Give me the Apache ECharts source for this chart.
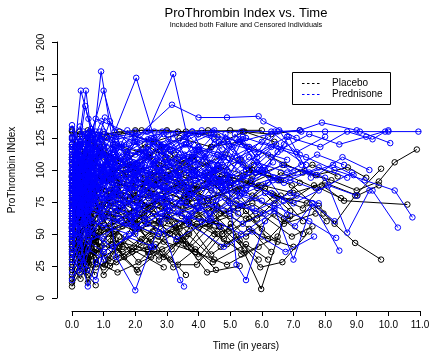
<!DOCTYPE html>
<html><head><meta charset="utf-8">
<script src="https://cdn.jsdelivr.net/npm/echarts@6/dist/echarts.min.js"></script>
<style>html,body{margin:0;padding:0;background:#fff}#c{width:431px;height:352px}</style>
</head><body><div id="c"></div>
<script>
const xTicks = [0,1,2,3,4,5,6,7,8,9,10,11];
const yTicks = [0,25,50,75,100,125,150,175,200];
const groups = ['Placebo','Prednisone'];
// each patient: flat list time,value,time,value,...
const placebo = [
[0,62,.27,55,.52,70,.76,48,1.12,66,2.35,58,3.4,45],
[0,88,.23,92,.49,80,.91,95,1.82,104,2.7,97,3.8,110,4.75,96,5.9,88],
[0,45,.3,38,.55,52,1.15,30],
[0,104,.24,118,.5,96,.77,110,1.1,126,2.2,131,3.35,130,4.3,131,5.4,130,6.3,128,7.2,131],
[0,15,.26,28,.49,22],
[0,76,.27,84,.51,67,.74,90,1.22,72,2.26,85,3.52,78,4.35,60,5.1,70],
[0,95,.22,70,.48,86,1.3,63,2.6,75],
[0,35,.25,48,.5,30,.75,55,1.24,42,2.4,36,3.3,52,4.27,20,5.3,25],
[0,120,.26,108,.5,125,.89,115,1.72,96,2.8,118,3.75,102],
[0,58,.3,74,.53,64,1.2,82,2.3,70,3.33,88,4.28,76,5.32,94,6.35,81,7.3,70,7.9,88,8.6,76,10.6,73],
[0,82,.25,66,.5,75,.76,58],
[0,9,.24,20,.5,35,.72,18],
[0,70,.26,92,.5,84,1.08,104,2.34,90,3.25,112,4.3,94,5.3,108,5.7,100,6.6,92],
[0,100,.25,85,.51,98,1.1,80,2.22,66,3.3,90,4.33,78,5.25,85,6.2,96,6.95,88,7.95,66,8.95,43,9.77,30],
[0,52,.27,40,.5,28,.75,44,1.2,25,2.35,40,3.1,30,3.6,48],
[0,90,.24,100,.5,110,1.23,96,2.3,120,3.34,105,4.4,118,5.3,122,6.3,110,7.3,98,8.2,92,9.0,84,9.7,91,10.2,106,10.9,116],
[0,40,.25,62,.49,55,.75,70,1.32,50,2.28,65,3.35,48],
[0,130,.26,120,.5,128,1.2,110],
[0,66,.28,58,.51,80,1.21,74,2.3,60,3.28,55,4.32,70,5.3,45,5.95,24,6.65,28,7.5,52],
[0,78,.25,96,.5,88,.75,102,1.3,94,2.45,110,3.4,98],
[0,24,.27,15,.5,30,1.3,45,2.4,38,3.35,26,3.95,26,5.02,58,5.98,7,6.7,62],
[0,112,.24,95,.52,104,1.3,120,2.43,112,3.4,125,4.4,118,5.45,130,6.4,122],
[0,56,.25,50,.5,66,.76,45,1.33,60],
[0,86,.27,74,.49,92,1.19,84,2.42,78,3.46,90,4.4,84,5.38,72],
[0,18,.26,32,.5,25,.74,38,1.4,28,2.5,46],
[0,95,.25,108,.5,90],
[0,72,.24,64,.51,78,1.4,68,2.45,82,3.5,70,4.45,75,5.5,62,6.4,80,7.42,74,8.05,60],
[0,48,.27,70,.5,60,1.42,85,2.5,72,3.47,64,4.5,50,5.45,35,6.5,48],
[0,105,.26,115,.5,100,.75,118,1.4,108,2.5,96,3.42,100],
[0,62,.25,45,.48,58,.75,35,1.4,52,2.45,34,3.5,45,4.45,28,5.5,42,6.2,30],
[0,84,.26,95,.5,72,1.42,88],
[0,30,.24,22,.5,40,.76,28,1.44,20,2.5,32],
[0,96,.27,86,.49,102,1.5,92,2.52,85,3.6,96,4.62,88,5.6,100,6.55,92,7.6,104,8.4,95],
[0,68,.25,78,.5,60,.75,72,1.51,80,2.56,66,3.62,58,4.58,72],
[0,118,.24,130,.5,125,1.5,130,2.6,122,3.6,130,4.6,126],
[0,38,.26,28,.52,45,1.6,36,2.65,55,3.6,42],
[0,76,.25,70,.5,85,1.6,96,2.6,88,3.64,75,4.6,80,5.63,90],
[0,55,.27,84,.5,70,.74,62],
[0,90,.25,76,.5,95,1.62,70,2.6,98,3.7,82,4.65,93,5.7,80,6.6,98,7.7,86],
[0,22,.25,38,.5,12,.75,30,1.6,40],
[0,100,.26,90,.5,84,1.7,100,2.7,92,3.7,80,4.7,66,5.7,74,6.7,58,7.7,66],
[0,64,.25,72,.5,50,1.7,62,2.72,48,3.7,60,4.7,40],
[0,82,.24,100,.5,92,.76,84,1.7,98,2.75,104,3.72,92,4.7,102,5.7,95,6.7,104,7.7,96,8.72,102,9.3,94],
[0,46,.26,55,.5,42,1.75,66,2.8,58],
[0,125,.25,112,.5,120,1.8,104,2.8,115,3.8,100,4.85,112,5.82,98],
[0,72,.27,82,.5,92,1.8,76,2.85,70,3.8,84,4.82,66,5.8,78,6.82,62,7.8,72,8.3,58,8.95,80,9.77,101],
[0,12,.25,25,.49,18,.75,10],
[0,92,.26,84,.5,98,1.85,86,2.82,94,3.85,108],
[0,58,.25,64,.5,48,1.85,58,2.9,44,3.9,36,4.9,26,5.9,40],
[0,80,.24,68,.5,82,1.9,90,2.9,78,3.9,88,4.9,96,5.85,86,6.9,76,7.65,88,8.5,78],
[0,110,.25,98,.5,112,1.9,102],
[0,50,.26,36,.5,52,.75,24,1.9,38,2.9,24],
[0,85,.25,90,.5,78,.9,70,1.95,80,2.95,62,3.95,72],
[0,66,.27,52,.5,62,.95,55,1.95,68,2.92,50,3.95,58,4.95,52,5.95,66,6.95,48,7.6,56],
[0,131,.25,128,.5,131,1.0,128,2.0,131,3.0,131,4.0,128,5.0,131,6.0,131],
[0,28,.24,42,.5,34,1.0,24,1.5,48],
[0,75,.25,62,.5,70,1.0,64,2.0,52,3.0,64,4.0,55,5.0,64,6.0,48,7.0,40],
[0,98,.26,110,.5,104,1.0,115,2.0,100],
[0,42,.25,58,.5,65,1.0,52,2.0,62,3.0,76,4.0,62,5.0,55],
[0,88,.25,80,.5,74,1.0,92,2.0,86,3.0,94,4.0,85,5.0,92,6.0,88,7.0,82,8.0,90,9.02,80,9.7,88],
[0,60,.2,42,.45,58,.7,36,1.15,50,1.65,32,2.2,46,2.75,30,3.3,44,4.0,32,4.6,50],
[0,44,.15,66,.4,38,.62,60,.88,40,1.35,56,1.9,36,2.55,52,3.15,38,3.75,56,4.4,34,5.2,48,5.9,30],
[0,80,.18,60,.38,76,.6,52,.85,70,1.3,48,1.85,64,2.45,44,3.05,60,3.65,40,4.2,58,4.9,42,5.6,54,6.3,36],
[0,36,.22,52,.46,30,.7,46,1.05,26,1.55,44,2.1,28,2.65,42,3.2,24,3.9,38,4.55,22],
[0,94,.17,78,.42,96,.66,80,.92,100,1.4,82,1.95,98,2.5,80,3.1,96,3.7,78,4.3,94,4.95,76,5.65,92,6.4,74,7.2,90],
[0,52,.2,74,.44,56,.68,78,.95,60,1.45,80,2.05,58,2.7,76,3.4,54,4.1,72,4.75,50,5.5,68,6.2,46,6.9,64],
[0,108,.16,90,.4,112,.64,94,.9,118,1.3,96,1.75,114,2.3,92,2.95,110,3.55,88,4.25,106,5.0,86,5.75,104],
[0,26,.2,40,.44,20,.7,36,1.0,18,1.5,34,2.1,20],
[0,70,.16,88,.4,64,.65,86,.9,66,1.4,90,1.95,68,2.6,92,3.2,70,3.85,88,4.5,66,5.2,84,5.85,62,6.6,80,7.3,60],
[0,58,.22,46,.46,64,.7,44,1.0,62,1.5,40,2.0,60,2.6,38,3.25,58,3.9,36,4.65,56,5.35,34],
[0,74,.3,60,.7,82,1.6,56,2.3,72,3.1,50,3.9,68,4.8,46,5.6,62,6.5,44],
[0,54,.35,76,.8,48,1.45,68,2.15,44,2.95,64,3.75,40,4.55,60,5.45,38],
[0,92,.28,104,.66,86,1.25,98,2.05,76,2.85,94,3.6,72,4.45,90,5.25,70,6.1,86,6.9,68],
[0,40,.32,30,.72,50,1.3,34,2.1,54,2.9,32,3.65,50,4.5,30],
[0,84,.24,70,.6,90,1.15,64,1.95,84,2.75,60,3.55,80,4.35,56,5.2,76,6.0,54],
[0,118,.3,104,.7,122,1.35,100,2.2,116,3.0,96,3.8,110,4.7,92],
[0,64,.26,84,.62,58,1.2,78,2.0,54,2.8,74,3.7,50,4.6,70,5.5,48,6.4,66,7.3,50],
[0,32,.28,46,.64,26,1.25,42,2.05,22,2.85,38,3.6,18]
];
const prednisone = [
[0,135,.22,120,.48,128,.73,110],
[0,96,.28,162,.52,140,.8,125,1.1,118],
[0,84,.2,120,.44,162,.6,130,.85,115,1.2,106],
[0,70,.3,96,.62,110,.92,177,1.3,120,1.62,105,2.2,98],
[0,80,.18,104,.5,118,1.0,162,1.35,130,2.03,172,2.6,125,3.0,118],
[0,100,.45,115,1.1,125,2.4,130,3.2,175,3.7,120,4.2,110],
[0,90,.25,110,.55,102,1.04,141,1.8,120,3.16,151,4.0,141,4.9,141,5.9,142,6.05,138,7.1,125],
[0,60,.27,86,.51,75,1.15,98,2.35,130,3.3,129,4.45,130,5.35,130,6.4,130,7.25,130,8.0,130,9.1,130,10.0,130,10.95,130,11.1,130],
[0,110,.23,95,.5,120,1.3,108,2.5,125,3.2,115,4.4,128,5.3,122,6.5,130,7.2,131,7.9,137,9.0,131,10.06,121],
[0,48,.26,70,.55,62,.78,85,1.35,74,2.45,80,3.35,66,4.5,72,5.4,58,6.4,70,7.0,30,7.6,74,8.3,60],
[0,20,.24,35,.5,9,.76,28,1.02,42],
[0,75,.26,90,.52,80,1.0,100,1.4,32,2.0,6,2.5,40,3.1,78],
[0,105,.3,98,.55,112,1.3,95,2.2,104,2.8,60,3.42,14,3.54,9],
[0,88,.26,100,.5,92,1.35,110,2.4,96,3.3,104,4.4,92,4.9,100,5.2,26,5.5,14,6.1,60],
[0,55,.25,72,.5,66,1.3,80,2.2,72,3.35,85,4.3,78,5.35,90,6.3,82,6.8,65],
[0,92,.28,80,.53,96,1.28,88,2.35,100,3.4,90,4.25,98,5.5,86,6.4,94,7.35,100,8.0,94,8.7,51,9.4,84],
[0,66,.24,58,.5,74,1.4,66,2.3,84,3.45,75,4.4,90,5.3,80,6.35,92,7.5,98,8.25,104,8.9,96,9.5,84,10.3,55],
[0,78,.27,92,.5,86,1.26,100,2.35,110,3.25,98,4.35,112,5.4,104,6.3,118,7.4,110,8.3,100,9.25,92,10.2,84,10.76,63],
[0,44,.25,30,.52,52,1.3,40,2.4,58,3.3,46,4.4,62,5.35,50,6.4,68,7.05,56,7.6,74,8.45,37],
[0,58,.28,66,.5,50,1.35,70,2.3,62,3.4,74,4.35,66,5.3,80,6.4,72,7.5,60,8.35,47],
[0,100,.25,126,.5,118,.75,130,1.4,124,2.6,130],
[0,115,.26,104,.55,130,1.55,120,2.45,112,3.6,126,4.5,131,5.55,118],
[0,30,.25,45,.47,22,.75,14,1.0,36],
[0,72,.23,84,.5,96,.77,88,1.6,105,2.55,96,3.4,110,4.6,100],
[0,95,.25,110,.5,102,1.5,118,2.6,106,3.55,120,4.6,112,5.5,125,6.6,116,7.5,128,8.45,120,9.3,126,10.0,131],
[0,62,.3,78,.54,70,1.54,60,2.6,76],
[0,50,.26,64,.5,80,1.6,72,2.5,88,3.6,80,4.65,92],
[0,85,.25,72,.52,90,1.65,82,2.7,94,3.65,86,4.5,100,5.7,92,6.65,104,7.75,96,8.55,110,9.4,100],
[0,120,.22,112,.5,128,1.7,118,2.7,126],
[0,38,.27,50,.5,44,1.7,58,2.75,50,3.7,64,4.7,56],
[0,90,.25,98,.48,84,1.7,96,2.75,88,3.65,100,4.75,86,5.8,98,6.7,90,7.8,102,8.7,94],
[0,74,.25,66,.55,82,1.75,74,2.65,90],
[0,105,.24,115,.5,96,1.76,110,2.7,100,3.8,112,4.75,104,5.75,116,6.8,108],
[0,56,.25,42,.5,60,1.8,50,2.8,66,3.7,58,4.8,40,5.7,52,6.75,36,7.65,48],
[0,82,.3,96,.5,104,1.8,92,2.8,108,3.85,96,4.7,110],
[0,14,.25,26,.52,38,1.0,30,1.7,48,2.6,40],
[0,98,.2,88,.5,106,1.85,98,2.9,86,3.8,100,4.8,92,5.85,106,6.8,98,7.75,112,8.6,104],
[0,68,.26,80,.5,72,1.85,86,2.8,78,3.9,92,4.8,84,5.7,70],
[0,125,.25,134,.5,120,.75,140,1.9,128,2.85,118,3.8,130,4.9,124],
[0,46,.28,58,.5,70,1.9,62,2.9,74,3.8,66,4.85,78,5.8,68,6.9,82,7.8,74],
[0,88,.24,76,.5,94,1.9,84,2.8,98,3.9,90,4.8,102],
[0,112,.25,100,.5,116,1.95,106,2.9,120,3.85,110,4.8,122,5.9,114,6.8,126,7.85,118,8.7,130,9.5,124,9.9,130],
[0,64,.22,52,.5,68,1.95,56,2.95,70],
[0,80,.25,88,.55,78,1.95,92,2.9,84,3.9,96,4.85,88,5.9,100,6.9,92,7.8,84,8.85,98],
[0,26,.25,40,.5,54,1.0,46,1.5,62],
[0,94,.26,104,.5,98,1.0,112,2.0,104,3.1,116],
[0,52,.25,66,.5,58,1.05,72,2.0,64,2.9,78,4.0,70,5.05,84,6.0,76],
[0,108,.25,122,.5,114,1.0,130,2.05,122,3.0,130],
[0,76,.3,70,.5,84,1.0,78,2.0,92,3.05,84,4.1,96,5.0,88,5.9,100],
[0,34,.25,20,.52,44,1.0,36,2.0,50],
[0,100,.25,92,.5,108,1.0,100,2.1,114,3.0,106,4.0,118,5.05,110,6.0,122,7.1,114,8.0,126],
[0,60,.24,74,.5,66,1.0,80,1.95,72,3.0,86,4.05,78],
[0,86,.25,100,.5,92,1.1,106,2.0,98],
[0,118,.27,108,.5,122,1.0,112,2.0,126,3.1,116,4.0,128,4.95,120],
[0,42,.25,56,.5,48,1.0,62,2.05,54,3.0,68,4.1,60,5.0,74,6.05,66,7.1,80],
[0,92,.25,84,.5,98,1.0,90,2.0,104,3.05,96,4.0,108],
[0,70,.26,86,.5,78,1.05,94,2.0,86],
[0,132,.25,118,.5,126,1.0,116],
[0,54,.25,48,.5,62,1.0,56,2.1,70,3.0,62,4.05,76,5.0,68,6.1,82,7.0,74,8.1,88,9.0,80],
[0,96,.25,110,.5,104,1.0,120,2.0,112,3.05,124,4.0,116],
[0,78,.15,96,.35,72,.6,104,.9,85,1.3,112,1.7,92],
[0,102,.12,88,.4,118,.65,96,.88,124,1.25,100],
[0,66,.18,94,.38,60,.62,88,.85,70,1.2,95,1.6,78,2.3,104],
[0,118,.15,100,.36,130,.58,108,.82,126,1.1,104],
[0,86,.16,64,.4,98,.63,74,.9,106,1.4,82],
[0,94,.12,122,.32,100,.6,132,.83,112,1.2,138,1.55,118],
[0,58,.2,84,.42,66,.7,92,.95,78],
[0,108,.14,90,.38,112,.6,86,.86,116,1.3,96,1.8,110],
[0,72,.16,100,.4,82,.65,112,.9,94,1.35,120],
[0,124,.18,110,.42,150,.66,124,.93,138,1.3,116],
[0,36,.18,58,.4,26,.66,48,.9,62],
[0,90,.2,74,.44,104,.7,86,.96,112,1.5,92,2.4,118,3.3,96],
[0,92,.2,116,.42,88,.65,120,.9,96,1.35,118,1.85,94,2.4,124,3.0,104,3.6,120,4.2,98,4.85,128,5.5,100,6.2,126],
[0,70,.18,94,.4,76,.62,102,.88,84,1.3,106,1.8,78,2.35,108,2.95,92,3.55,112,4.15,86,4.8,110,5.45,96],
[0,110,.16,84,.38,108,.6,80,.86,112,1.25,90,1.7,114,2.2,84,2.8,120,3.4,94,4.0,116,4.6,88,5.3,124,6.0,98,6.7,120],
[0,64,.2,90,.44,70,.68,98,.94,78,1.45,96,2.0,72,2.6,104,3.25,84,3.9,100,4.55,76,5.25,108],
[0,126,.16,104,.4,128,.62,110,.88,130,1.3,106,1.75,131,2.3,114,2.9,128,3.5,108,4.1,131,4.75,116],
[0,84,.22,66,.46,92,.7,74,.96,96,1.5,70,2.05,100,2.65,78,3.3,96,3.95,72,4.6,104,5.3,82,6.0,100,6.7,76],
[0,100,.18,118,.42,94,.66,124,.92,102,1.4,126,1.95,96,2.55,122,3.15,106,3.8,130,4.45,100,5.15,128,5.85,110,6.55,131,7.25,104],
[0,48,.2,72,.44,56,.68,80,.94,64,1.4,84,1.9,58,2.45,90,3.1,68,3.7,86,4.35,62,5.0,94],
[0,76,.16,100,.38,82,.62,108,.86,90,1.3,112,1.8,86,2.4,116,3.05,94,3.7,110,4.35,88,5.05,118,5.8,98,6.5,114],
[0,116,.2,94,.44,120,.68,100,.94,126,1.45,96,2.0,122,2.55,104,3.2,128,3.85,98,4.5,124],
[0,58,.18,80,.42,62,.66,88,.9,68,1.35,86,1.85,60,2.4,94,3.0,72,3.6,90,4.25,66],
[0,90,.22,112,.46,86,.7,116,.96,92,1.5,114,2.05,88,2.7,120,3.35,96,4.0,118,4.7,90,5.4,124,6.1,100,6.85,126,7.55,94],
[0,80,.3,104,.7,92,1.3,116,2.1,90,2.9,114,3.7,96,4.5,120,5.4,94,6.2,112,7.0,98],
[0,62,.26,84,.6,70,1.2,94,2.0,68,2.8,92,3.6,74,4.45,96,5.3,72,6.2,90],
[0,106,.24,90,.58,116,1.15,96,1.95,122,2.75,100,3.55,126,4.35,98,5.2,124,6.05,102],
[0,72,.3,96,.66,80,1.35,104,2.15,82,2.95,108,3.75,86,4.6,112,5.5,84],
[0,96,.28,120,.64,100,1.25,126,2.05,104,2.85,130,3.7,106,4.5,128,5.35,108,6.3,130,7.2,112],
[0,54,.24,76,.62,60,1.2,82,2.0,64,2.8,88,3.6,62,4.4,86,5.25,66],
[0,88,.3,72,.7,96,1.4,78,2.2,102,3.0,84,3.85,106,4.7,88,5.6,110,6.5,92],
[0,120,.26,104,.6,126,1.2,108,2.0,130,2.85,112,3.65,128,4.5,104,5.4,126],
[0,66,.28,90,.68,74,1.3,98,2.1,76,2.9,100,3.75,80,4.6,104,5.45,82,6.35,106],
[0,100,.32,86,.72,108,1.45,88,2.25,112,3.05,92,3.9,116,4.75,90,5.6,118],
[0,48,.25,68,.6,54,1.25,74,2.05,56,2.85,80,3.65,60,4.5,84],
[0,84,.3,108,.66,90,1.3,114,2.1,94,2.95,118,3.8,96,4.65,122,5.5,100,6.45,120,7.4,104]
];
function pairs(a){const r=[];for(let i=0;i<a.length;i+=2)r.push([a[i],a[i+1]]);return r;}
const colors = {Placebo:'#000000', Prednisone:'#0000ff'};
const series = [];
function add(list, name){
  list.forEach(p=>series.push({
    type:'line', name:name, data:pairs(p), silent:true, animation:false,
    symbol:'circle', symbolSize:5.5, showSymbol:true, showAllSymbol:true,
    lineStyle:{width:1, color:colors[name]},
    itemStyle:{color:'rgba(0,0,0,0)', borderColor:colors[name], borderWidth:1},
    emphasis:{disabled:true}, z:name==='Placebo'?2:3
  }));
}
add(placebo, groups[0]);
add(prednisone, groups[1]);
const font = 'Liberation Sans, Arial, Helvetica, sans-serif';
const chart = echarts.init(document.getElementById('c'), null, {renderer:'canvas'});
chart.setOption({
  animation:false,
  backgroundColor:'#ffffff',
  grid:{left:72, right:11, top:42, bottom:54, containLabel:false, outerBoundsMode:'none'},
  xAxis:{type:'value', min:xTicks[0], max:xTicks[xTicks.length-1], interval:1, offset:13,
    name:'Time (in years)', nameLocation:'middle', nameGap:30,
    nameTextStyle:{color:'#000', fontSize:10, fontFamily:font},
    axisLine:{show:true, onZero:false, lineStyle:{color:'#000', width:1}},
    axisTick:{show:true, length:5, lineStyle:{color:'#000'}},
    axisLabel:{color:'#000', fontSize:10, fontFamily:font, margin:9, formatter:v=>v.toFixed(1)},
    splitLine:{show:false}},
  yAxis:{type:'value', min:yTicks[0], max:yTicks[yTicks.length-1], interval:25, offset:15,
    name:'ProThrombin INdex', nameLocation:'middle', nameGap:40, nameRotate:90,
    nameTextStyle:{color:'#000', fontSize:10, fontFamily:font},
    axisLine:{show:true, onZero:false, lineStyle:{color:'#000', width:1}},
    axisTick:{show:true, length:5, lineStyle:{color:'#000'}},
    axisLabel:{color:'#000', fontSize:10, fontFamily:font, margin:11, rotate:90},
    splitLine:{show:false}},
  graphic:[
    {type:'text', style:{text:'ProThrombin Index vs. Time', x:246, y:13, align:'center', verticalAlign:'middle', font:'13px '+font, fill:'#000'}},
    {type:'text', style:{text:'Included both Failure and Censored Individuals', x:246, y:25, align:'center', verticalAlign:'middle', font:'7.3px '+font, fill:'#000'}},
    {type:'rect', shape:{x:292.5, y:72.5, width:98, height:32}, style:{fill:'#fff', stroke:'#000', lineWidth:1}, z:100},
    {type:'line', shape:{x1:302, y1:83.5, x2:320, y2:83.5}, style:{stroke:'#000', lineWidth:1, lineDash:[2.5,2.5]}, z:101},
    {type:'line', shape:{x1:302, y1:94.5, x2:320, y2:94.5}, style:{stroke:'#0000ff', lineWidth:1, lineDash:[2.5,2.5]}, z:101},
    {type:'text', style:{text:groups[0], x:332, y:83, verticalAlign:'middle', font:'10px '+font, fill:'#000'}, z:101},
    {type:'text', style:{text:groups[1], x:332, y:94, verticalAlign:'middle', font:'10px '+font, fill:'#000'}, z:101}
  ],
  series:series
});
</script></body></html>
